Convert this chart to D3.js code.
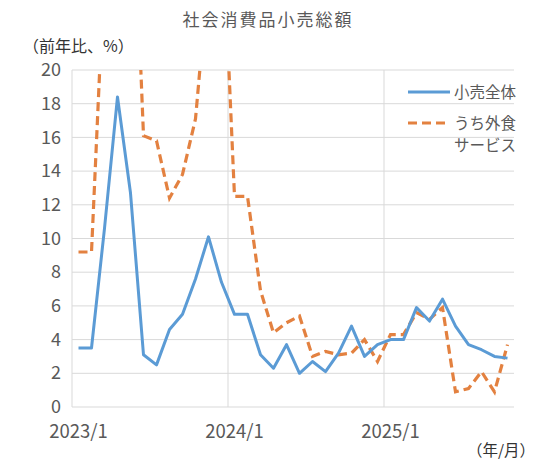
<!DOCTYPE html>
<html>
    <head>
        <meta charset="UTF-8" />
        <title>社会消費品小売総額</title>
        <script src="https://cdn.jsdelivr.net/npm/d3@7"></script>
        <style>
            body { margin: 0; background: #fff; }
            svg text { font-family: "Noto Sans CJK JP", "Noto Sans", sans-serif; }
        </style>
    </head>
    <body>
        <svg id="chart"></svg>

        <script>
            // Monthly categories (Jan and Feb share the combined Jan-Feb figure)
            const months = [
                "2023/1", "2023/2", "2023/3", "2023/4", "2023/5", "2023/6",
                "2023/7", "2023/8", "2023/9", "2023/10", "2023/11", "2023/12",
                "2024/1", "2024/2", "2024/3", "2024/4", "2024/5", "2024/6",
                "2024/7", "2024/8", "2024/9", "2024/10", "2024/11", "2024/12",
                "2025/1", "2025/2", "2025/3", "2025/4", "2025/5", "2025/6",
                "2025/7", "2025/8", "2025/9", "2025/10"
            ];

            // 小売全体 (% y/y)
            const retailTotal = [
                3.5, 3.5, 10.6, 18.4, 12.7, 3.1, 2.5, 4.6, 5.5, 7.6, 10.1, 7.4,
                5.5, 5.5, 3.1, 2.3, 3.7, 2.0, 2.7, 2.1, 3.2, 4.8, 3.0, 3.7,
                4.0, 4.0, 5.9, 5.1, 6.4, 4.8, 3.7, 3.4, 3.0, 2.9
            ];

            // うち外食サービス (% y/y), values above 20 run off the top
            const catering = [
                9.2, 9.2, 26.3, 43.8, 35.1, 16.1, 15.8, 12.4, 13.8, 17.1, 25.8, 30.0,
                12.5, 12.5, 6.9, 4.4, 5.0, 5.4, 3.0, 3.3, 3.1, 3.2, 4.0, 2.7,
                4.3, 4.3, 5.6, 5.2, 5.9, 0.9, 1.1, 2.1, 0.9, 3.7
            ];

            const xTickLabels = ["2023/1", "2024/1", "2025/1"];
            const yTicks = [0, 2, 4, 6, 8, 10, 12, 14, 16, 18, 20];

            const width = 540;
            const height = 460;
            const plot = { left: 72, right: 514, top: 70, bottom: 407 };

            const gridColor = "#d9d9d9";
            const textColor = "#595959";
            const blue = "#5b9bd5";
            const orange = "#e38140";

            const svg = d3.select("#chart")
                        .attr("width", width)
                        .attr("height", height);

            const x = d3.scaleBand()
                        .domain(months)
                        .range([plot.left, plot.right])
                        .padding(0);

            const y = d3.scaleLinear()
                        .domain([0, 20])
                        .range([plot.bottom, plot.top]);

            const cx = m => x(m) + x.bandwidth() / 2;

            // Horizontal gridlines
            svg.append("g")
                .selectAll("line")
                .data(yTicks)
                .enter()
                .append("line")
                .attr("x1", plot.left)
                .attr("x2", plot.right)
                .attr("y1", d => y(d))
                .attr("y2", d => y(d))
                .style("stroke", gridColor)
                .style("stroke-width", 1);

            // Vertical lines: left axis plus year boundaries
            svg.append("g")
                .selectAll("line")
                .data(xTickLabels)
                .enter()
                .append("line")
                .attr("x1", d => x(d))
                .attr("x2", d => x(d))
                .attr("y1", plot.top)
                .attr("y2", plot.bottom)
                .style("stroke", gridColor)
                .style("stroke-width", 1);

            // Y tick labels
            svg.append("g")
                .selectAll("text")
                .data(yTicks)
                .enter()
                .append("text")
                .attr("x", plot.left - 11)
                .attr("y", d => y(d))
                .attr("dy", "0.34em")
                .attr("text-anchor", "end")
                .style("font-size", "18px")
                .style("fill", textColor)
                .text(d => d);

            // X tick labels
            svg.append("g")
                .selectAll("text")
                .data(xTickLabels)
                .enter()
                .append("text")
                .attr("x", d => cx(d))
                .attr("y", plot.bottom + 31)
                .attr("text-anchor", "middle")
                .style("font-size", "18.5px")
                .style("fill", textColor)
                .text(d => d);

            // Clip the lines at the top of the plot
            svg.append("clipPath")
                .attr("id", "plot-clip")
                .append("rect")
                .attr("x", plot.left - 10)
                .attr("y", plot.top)
                .attr("width", plot.right - plot.left + 20)
                .attr("height", plot.bottom - plot.top + 10);

            const line = d3.line()
                        .x((d, i) => cx(months[i]))
                        .y(d => y(d));

            const lines = svg.append("g").attr("clip-path", "url(#plot-clip)");

            lines.append("path")
                .datum(catering)
                .attr("d", line)
                .style("fill", "none")
                .style("stroke", orange)
                .style("stroke-width", 3.2)
                .style("stroke-dasharray", "9,5");

            lines.append("path")
                .datum(retailTotal)
                .attr("d", line)
                .style("fill", "none")
                .style("stroke", blue)
                .style("stroke-width", 3)
                .style("stroke-linejoin", "round");

            // Title and unit labels
            svg.append("text")
                .attr("x", 268)
                .attr("y", 26)
                .attr("text-anchor", "middle")
                .style("font-size", "17px")
                .style("letter-spacing", "2px")
                .style("fill", textColor)
                .text("社会消費品小売総額");

            svg.append("text")
                .attr("x", 23)
                .attr("y", 52)
                .style("font-size", "16px")
                .style("fill", "#333")
                .text("（前年比、%）");

            svg.append("text")
                .attr("x", 535)
                .attr("y", 456)
                .attr("text-anchor", "end")
                .style("font-size", "15.5px")
                .style("fill", "#333")
                .text("（年/月）");

            // Legend
            const legend = svg.append("g");

            legend.append("line")
                .attr("x1", 408).attr("x2", 450)
                .attr("y1", 92).attr("y2", 92)
                .style("stroke", blue)
                .style("stroke-width", 3);

            legend.append("text")
                .attr("x", 454).attr("y", 92)
                .attr("dy", "0.36em")
                .style("font-size", "15.5px")
                .style("fill", textColor)
                .text("小売全体");

            legend.append("line")
                .attr("x1", 408).attr("x2", 450)
                .attr("y1", 123).attr("y2", 123)
                .style("stroke", orange)
                .style("stroke-width", 3.2)
                .style("stroke-dasharray", "9,5");

            legend.append("text")
                .attr("x", 454).attr("y", 123)
                .attr("dy", "0.36em")
                .style("font-size", "15.5px")
                .style("fill", textColor)
                .text("うち外食");

            legend.append("text")
                .attr("x", 454).attr("y", 145)
                .attr("dy", "0.36em")
                .style("font-size", "15.5px")
                .style("fill", textColor)
                .text("サービス");
        </script>
    </body>
</html>
